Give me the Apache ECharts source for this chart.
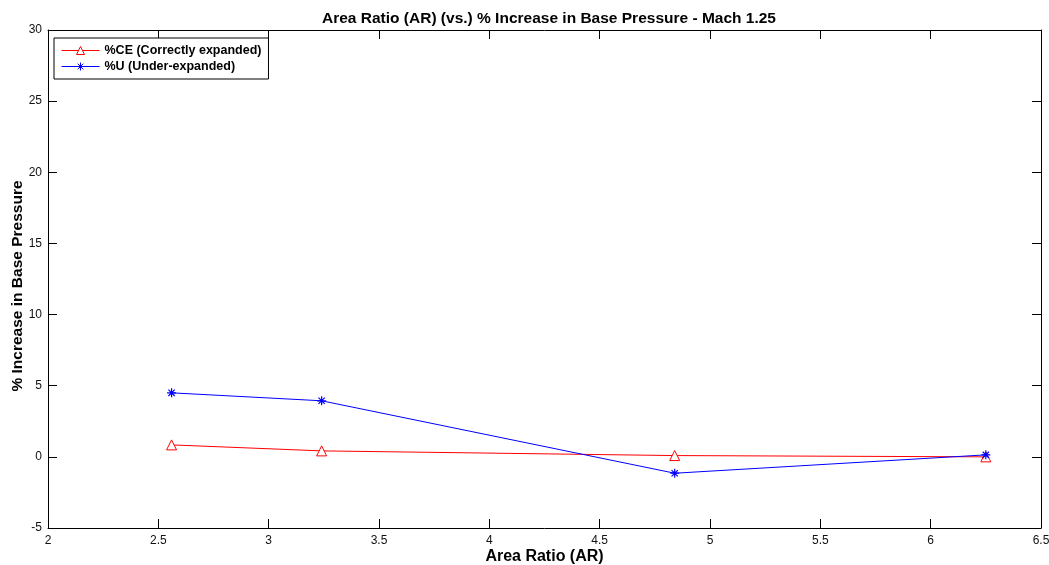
<!DOCTYPE html>
<html>
<head>
<meta charset="utf-8">
<script src="https://cdn.jsdelivr.net/npm/echarts@6/dist/echarts.min.js"></script>
<style>
  html, body { margin: 0; padding: 0; background: #fff; }
  #chart { width: 1049px; height: 565px; }
</style>
</head>
<body>
<div id="chart"></div>
<script>
// Area ratios tested (nozzle exit/throat)
const areaRatio = [2.56, 3.24, 4.84, 6.25];
// % increase in base pressure, correctly expanded jets
const pctCE = [0.84, 0.42, 0.09, 0.0];
// % increase in base pressure, under-expanded jets
const pctU = [4.5, 3.94, -1.15, 0.14];

const xTicks = { min: 2, max: 6.5, interval: 0.5 };
const yTicks = { min: -5, max: 30, interval: 5 };

const FONT = 'Liberation Sans, Arial, sans-serif';
const asterisk = 'path://M5,0 L5,10 M0,5 L10,5 M1.5,1.5 L8.5,8.5 M8.5,1.5 L1.5,8.5';
const RED = '#ff0000';
const BLUE = '#0000ff';

const chart = echarts.init(document.getElementById('chart'), null, { renderer: 'canvas' });

function axisBase(extra) {
  return Object.assign({
    type: 'value',
    axisLine: { show: true, onZero: false, lineStyle: { color: '#000', width: 1 } },
    axisTick: { show: true, inside: true, length: 9, lineStyle: { color: '#000', width: 1 } },
    splitLine: { show: false },
    axisLabel: { show: true, color: '#111', fontFamily: FONT, fontSize: 12 }
  }, extra);
}

chart.setOption({
  animation: false,
  backgroundColor: '#fff',
  title: {
    text: 'Area Ratio (AR) (vs.) % Increase in Base Pressure - Mach 1.25',
    left: 544, textAlign: 'center', top: 6,
    textStyle: { fontFamily: FONT, fontSize: 15.5, fontWeight: 'bold', color: '#000' }
  },
  legend: {
    orient: 'vertical',
    left: 54, top: 38,
    padding: [6, 7, 6, 7],
    itemGap: 3,
    itemWidth: 38, itemHeight: 10,
    backgroundColor: '#fff',
    borderColor: '#000', borderWidth: 1, borderRadius: 0,
    textStyle: { fontFamily: FONT, fontSize: 12.5, fontWeight: 'bold', color: '#000' },
    data: [
      {
        name: '%CE (Correctly expanded)',
        itemStyle: { color: '#fff', borderColor: RED, borderWidth: 1 },
        lineStyle: { color: RED, width: 1 }
      },
      {
        name: '%U (Under-expanded)',
        itemStyle: { color: 'rgba(0,0,0,0)', borderColor: BLUE, borderWidth: 1 },
        lineStyle: { color: BLUE, width: 1 }
      }
    ]
  },
  grid: { left: 48, right: 8, top: 30, bottom: 37, containLabel: false, outerBoundsMode: 'none' },
  xAxis: [
    axisBase(Object.assign({
      position: 'bottom',
      name: 'Area Ratio (AR)', nameLocation: 'middle', nameGap: 21, nameMoveOverlap: false,
      nameTextStyle: { fontFamily: FONT, fontSize: 16, fontWeight: 'bold', color: '#000' },
      axisLabel: { show: true, color: '#111', fontFamily: FONT, fontSize: 12, margin: 7 }
    }, xTicks)),
    axisBase(Object.assign({ position: 'top', axisLabel: { show: false } }, xTicks))
  ],
  yAxis: [
    axisBase(Object.assign({
      position: 'left',
      name: '% Increase in Base Pressure', nameLocation: 'middle', nameGap: 22, nameMoveOverlap: false,
      nameTextStyle: { fontFamily: FONT, fontSize: 15.5, fontWeight: 'bold', color: '#000', padding: [0, 14, 0, 0] },
      axisLabel: { show: true, color: '#111', fontFamily: FONT, fontSize: 12, margin: 6 }
    }, yTicks)),
    axisBase(Object.assign({ position: 'right', axisLabel: { show: false } }, yTicks))
  ],
  series: [
    {
      name: '%CE (Correctly expanded)',
      type: 'line',
      data: areaRatio.map((x, i) => [x, pctCE[i]]),
      symbol: 'triangle', symbolSize: 10,
      showAllSymbol: true,
      lineStyle: { color: RED, width: 1 },
      itemStyle: { color: '#fff', borderColor: RED, borderWidth: 1 }
    },
    {
      name: '%U (Under-expanded)',
      type: 'line',
      data: areaRatio.map((x, i) => [x, pctU[i]]),
      symbol: asterisk, symbolSize: 9,
      showAllSymbol: true,
      lineStyle: { color: BLUE, width: 1 },
      itemStyle: { color: 'rgba(0,0,0,0)', borderColor: BLUE, borderWidth: 1.2 }
    }
  ]
});
</script>
</body>
</html>
